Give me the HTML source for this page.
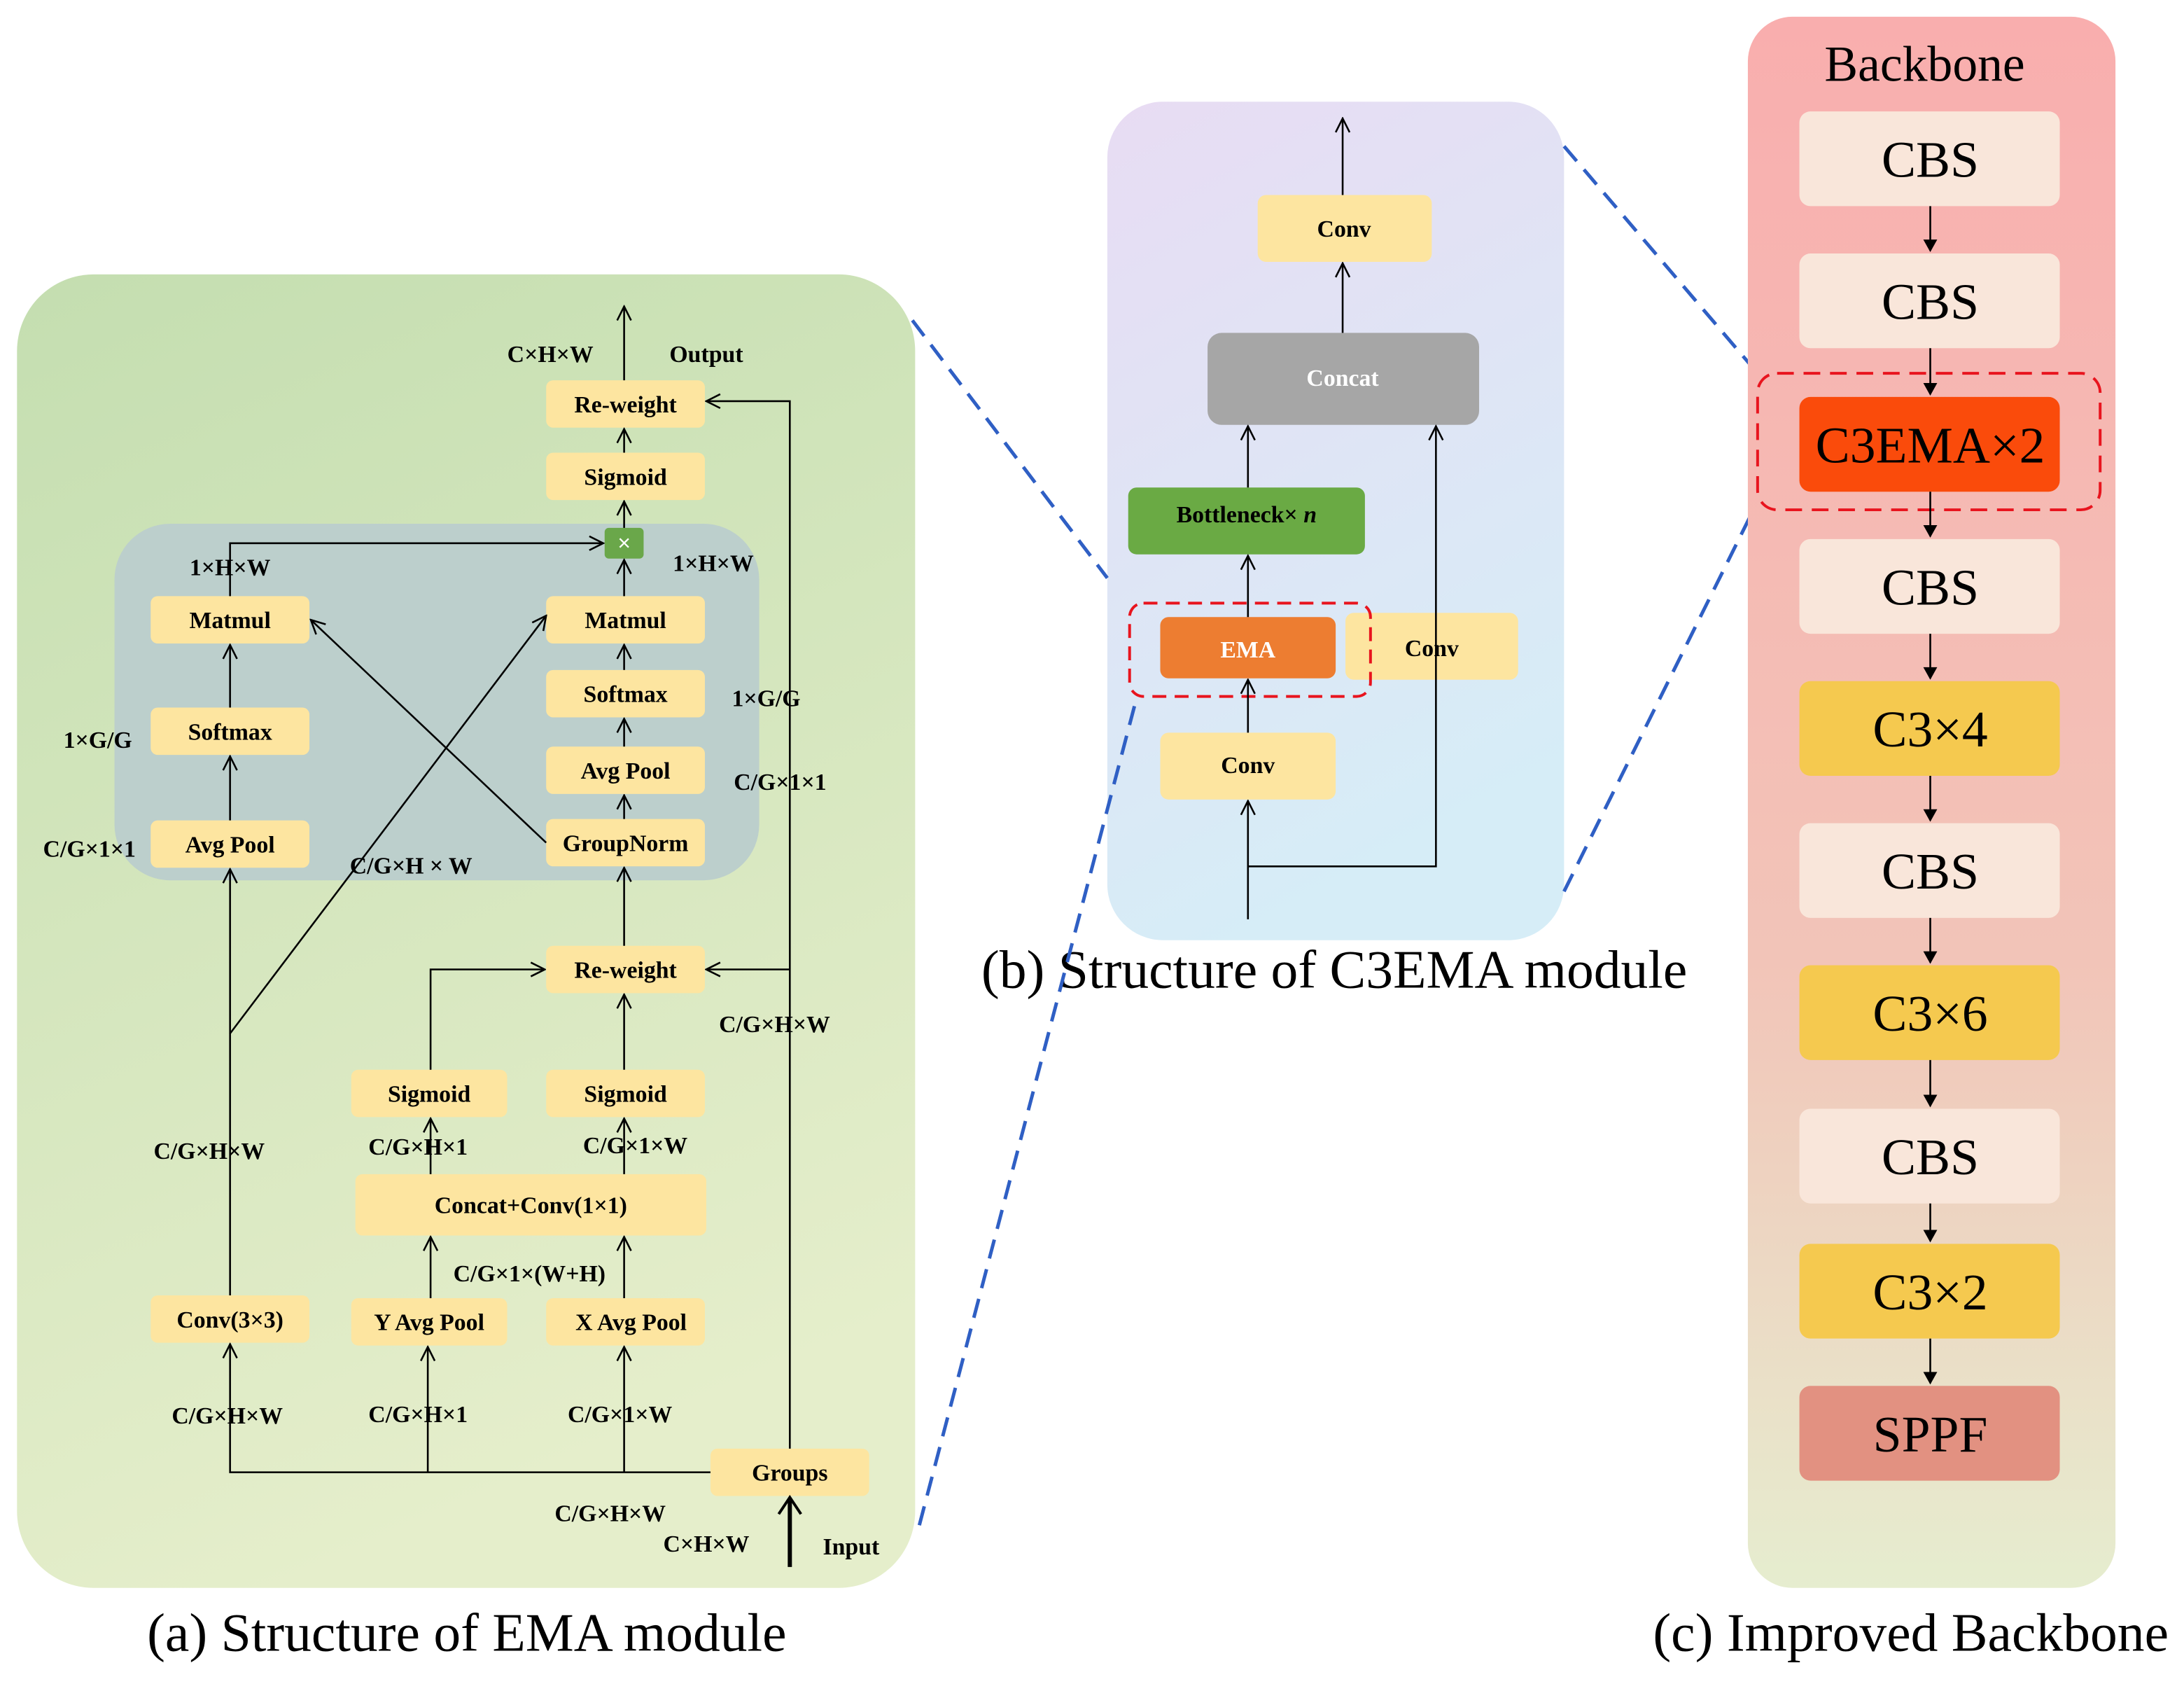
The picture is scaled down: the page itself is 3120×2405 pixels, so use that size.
<!DOCTYPE html>
<html><head><meta charset="utf-8"><style>html,body{margin:0;padding:0;background:#fff}svg{display:block}</style></head><body>
<svg width="3120" height="2405" viewBox="0 0 1568 1209" xmlns="http://www.w3.org/2000/svg" font-family="Liberation Serif, serif">
<defs>
<linearGradient id="ga" x1="0" y1="0" x2="0.3" y2="1"><stop offset="0" stop-color="#c4deb0"/><stop offset="1" stop-color="#e5eecb"/></linearGradient>
<linearGradient id="gb" x1="0" y1="0" x2="0.3" y2="1"><stop offset="0" stop-color="#e8dcf3"/><stop offset="1" stop-color="#d6edf7"/></linearGradient>
<linearGradient id="gc" x1="0" y1="0" x2="0" y2="1"><stop offset="0" stop-color="#f9aeae"/><stop offset="0.6" stop-color="#f2c4b8"/><stop offset="1" stop-color="#e6edcf"/></linearGradient>
<marker id="ar" viewBox="0 0 12 12" refX="11" refY="6" markerWidth="12" markerHeight="12" markerUnits="userSpaceOnUse" orient="auto"><path d="M1,1 L11,6 L1,11" fill="none" stroke="#000" stroke-width="1.3"/></marker>
</defs>
<!-- panel a -->
<rect x="12" y="197" width="645" height="943" rx="55" fill="url(#ga)"/>
<rect x="82" y="376" width="463" height="256" rx="40" fill="#bccfcc"/>
<g fill="#fde5a0">
<rect x="392" y="273" width="114" height="34" rx="5"/>
<rect x="392" y="325" width="114" height="34" rx="5"/>
<rect x="108" y="428" width="114" height="34" rx="5"/>
<rect x="392" y="428" width="114" height="34" rx="5"/>
<rect x="108" y="508" width="114" height="34" rx="5"/>
<rect x="392" y="481" width="114" height="34" rx="5"/>
<rect x="392" y="536" width="114" height="34" rx="5"/>
<rect x="108" y="589" width="114" height="34" rx="5"/>
<rect x="392" y="588" width="114" height="34" rx="5"/>
<rect x="392" y="679" width="114" height="34" rx="5"/>
<rect x="252" y="768" width="112" height="34" rx="5"/>
<rect x="392" y="768" width="114" height="34" rx="5"/>
<rect x="255" y="843" width="252" height="44" rx="5"/>
<rect x="108" y="930" width="114" height="34" rx="5"/>
<rect x="252" y="932" width="112" height="34" rx="5"/>
<rect x="392" y="932" width="114" height="34" rx="5"/>
<rect x="510" y="1040" width="114" height="34" rx="5"/>
</g>
<rect x="434" y="379" width="28" height="22" rx="3" fill="#6aa74a"/>
<text x="448" y="395" font-size="16" fill="#fff" text-anchor="middle" font-family="Liberation Sans, sans-serif">×</text>
<g font-size="17" font-weight="bold" text-anchor="middle" fill="#000">
<text x="449" y="296">Re-weight</text>
<text x="449" y="348">Sigmoid</text>
<text x="165" y="451">Matmul</text>
<text x="449" y="451">Matmul</text>
<text x="165" y="531">Softmax</text>
<text x="449" y="504">Softmax</text>
<text x="449" y="559">Avg Pool</text>
<text x="165" y="612">Avg Pool</text>
<text x="449" y="611">GroupNorm</text>
<text x="449" y="702">Re-weight</text>
<text x="308" y="791">Sigmoid</text>
<text x="449" y="791">Sigmoid</text>
<text x="381" y="871">Concat+Conv(1×1)</text>
<text x="165" y="953">Conv(3×3)</text>
<text x="308" y="955">Y Avg Pool</text>
<text x="453" y="955">X Avg Pool</text>
<text x="567" y="1063">Groups</text>
<text x="395" y="260">C×H×W</text>
<text x="507" y="260">Output</text>
<text x="165" y="413">1×H×W</text>
<text x="512" y="410">1×H×W</text>
<text x="70" y="537">1×G/G</text>
<text x="64" y="615">C/G×1×1</text>
<text x="295" y="627">C/G×H × W</text>
<text x="550" y="507">1×G/G</text>
<text x="560" y="567">C/G×1×1</text>
<text x="556" y="741">C/G×H×W</text>
<text x="150" y="832">C/G×H×W</text>
<text x="300" y="829">C/G×H×1</text>
<text x="456" y="828">C/G×1×W</text>
<text x="380" y="920">C/G×1×(W+H)</text>
<text x="163" y="1022">C/G×H×W</text>
<text x="300" y="1021">C/G×H×1</text>
<text x="445" y="1021">C/G×1×W</text>
<text x="438" y="1092">C/G×H×W</text>
<text x="507" y="1114">C×H×W</text>
<text x="611" y="1116">Input</text>
</g>
<g stroke="#000" stroke-width="1.3" fill="none" marker-end="url(#ar)">
<line x1="448" y1="273" x2="448" y2="220"/>
<line x1="448" y1="325" x2="448" y2="308"/>
<line x1="448" y1="379" x2="448" y2="360"/>
<line x1="448" y1="428" x2="448" y2="402"/>
<polyline points="165,428 165,390 433,390"/>
<line x1="165" y1="508" x2="165" y2="463"/>
<line x1="165" y1="589" x2="165" y2="543"/>
<line x1="448" y1="481" x2="448" y2="463"/>
<line x1="448" y1="536" x2="448" y2="516"/>
<line x1="448" y1="588" x2="448" y2="571"/>
<line x1="392" y1="605" x2="223" y2="445"/>
<polyline points="165,930 165,742 392,442"/>
<line x1="165" y1="742" x2="165" y2="624"/>
<line x1="448" y1="679" x2="448" y2="623"/>
<line x1="448" y1="768" x2="448" y2="714"/>
<polyline points="309,768 309,696 391,696"/>
<line x1="309" y1="843" x2="309" y2="803"/>
<line x1="448" y1="843" x2="448" y2="803"/>
<line x1="309" y1="932" x2="309" y2="888"/>
<line x1="448" y1="932" x2="448" y2="888"/>
<polyline points="510,1057 165,1057 165,965"/>
<line x1="307" y1="1057" x2="307" y2="967"/>
<line x1="448" y1="1057" x2="448" y2="967"/>
<polyline points="567,1040 567,288 507,288"/>
<line x1="567" y1="696" x2="507" y2="696"/>
</g>
<line x1="567" y1="1125" x2="567" y2="1077" stroke="#000" stroke-width="3"/>
<path d="M559,1087 L567,1075 L575,1087" fill="none" stroke="#000" stroke-width="2"/>
<text x="335" y="1185" font-size="39" text-anchor="middle">(a) Structure of EMA module</text>
<!-- panel b -->
<rect x="795" y="73" width="328" height="602" rx="40" fill="url(#gb)"/>
<rect x="903" y="140" width="125" height="48" rx="6" fill="#fde5a0"/>
<rect x="867" y="239" width="195" height="66" rx="10" fill="#a6a6a6"/>
<rect x="810" y="350" width="170" height="48" rx="6" fill="#6aaa44"/>
<rect x="833" y="443" width="126" height="44" rx="6" fill="#ed7d31"/>
<rect x="966" y="440" width="124" height="48" rx="6" fill="#fde5a0"/>
<rect x="833" y="526" width="126" height="48" rx="6" fill="#fde5a0"/>
<rect x="811" y="433" width="173" height="67" rx="10" fill="none" stroke="#e8141e" stroke-width="2" stroke-dasharray="10,6"/>
<g font-size="17" font-weight="bold" text-anchor="middle">
<text x="965" y="170">Conv</text>
<text x="964" y="277" fill="#fff">Concat</text>
<text x="895" y="375">Bottleneck× <tspan font-style="italic">n</tspan></text>
<text x="896" y="472" fill="#fff">EMA</text>
<text x="1028" y="471">Conv</text>
<text x="896" y="555">Conv</text>
</g>
<g stroke="#000" stroke-width="1.3" fill="none" marker-end="url(#ar)">
<line x1="896" y1="660" x2="896" y2="575"/>
<line x1="896" y1="526" x2="896" y2="488"/>
<line x1="896" y1="443" x2="896" y2="399"/>
<line x1="896" y1="350" x2="896" y2="306"/>
<line x1="964" y1="239" x2="964" y2="189"/>
<line x1="964" y1="140" x2="964" y2="85"/>
<polyline points="896,622 1031,622 1031,306"/>
</g>
<text x="958" y="709" font-size="39" text-anchor="middle">(b) Structure of C3EMA module</text>
<!-- dashed connectors -->
<g stroke="#2f5fc4" stroke-width="2.5" stroke-dasharray="14,8">
<line x1="655" y1="230" x2="795" y2="415"/>
<line x1="660" y1="1095" x2="815" y2="505"/>
<line x1="1123" y1="105" x2="1262" y2="268"/>
<line x1="1123" y1="640" x2="1262" y2="360"/>
</g>
<!-- panel c -->
<rect x="1255" y="12" width="264" height="1128" rx="32" fill="url(#gc)"/>
<text x="1382" y="58" font-size="36" text-anchor="middle">Backbone</text>
<g>
<rect x="1292" y="80" width="187" height="68" rx="8" fill="#f9e6da"/>
<rect x="1292" y="182" width="187" height="68" rx="8" fill="#f9e6da"/>
<rect x="1292" y="285" width="187" height="68" rx="8" fill="#fa4b0b"/>
<rect x="1292" y="387" width="187" height="68" rx="8" fill="#f9e6da"/>
<rect x="1292" y="489" width="187" height="68" rx="8" fill="#f5c94f"/>
<rect x="1292" y="591" width="187" height="68" rx="8" fill="#f9e6da"/>
<rect x="1292" y="693" width="187" height="68" rx="8" fill="#f5c94f"/>
<rect x="1292" y="796" width="187" height="68" rx="8" fill="#f9e6da"/>
<rect x="1292" y="893" width="187" height="68" rx="8" fill="#f5c94f"/>
<rect x="1292" y="995" width="187" height="68" rx="8" fill="#e29181"/>
</g>
<rect x="1262" y="268" width="246" height="98" rx="14" fill="none" stroke="#e8141e" stroke-width="2" stroke-dasharray="12,7"/>
<g font-size="37" text-anchor="middle">
<text x="1386" y="127">CBS</text>
<text x="1386" y="229">CBS</text>
<text x="1386" y="332">C3EMA×2</text>
<text x="1386" y="434">CBS</text>
<text x="1386" y="536">C3×4</text>
<text x="1386" y="638">CBS</text>
<text x="1386" y="740">C3×6</text>
<text x="1386" y="843">CBS</text>
<text x="1386" y="940">C3×2</text>
<text x="1386" y="1042">SPPF</text>
</g>
<g stroke="#000" stroke-width="1.3">
<line x1="1386" y1="148" x2="1386" y2="180"/>
<line x1="1386" y1="250" x2="1386" y2="283"/>
<line x1="1386" y1="353" x2="1386" y2="385"/>
<line x1="1386" y1="455" x2="1386" y2="487"/>
<line x1="1386" y1="557" x2="1386" y2="589"/>
<line x1="1386" y1="659" x2="1386" y2="691"/>
<line x1="1386" y1="761" x2="1386" y2="794"/>
<line x1="1386" y1="864" x2="1386" y2="891"/>
<line x1="1386" y1="961" x2="1386" y2="993"/>
</g>
<g fill="#000">
<path d="M1381,172 L1391,172 L1386,181Z"/><path d="M1381,275 L1391,275 L1386,284Z"/><path d="M1381,377 L1391,377 L1386,386Z"/><path d="M1381,479 L1391,479 L1386,488Z"/><path d="M1381,581 L1391,581 L1386,590Z"/><path d="M1381,683 L1391,683 L1386,692Z"/><path d="M1381,786 L1391,786 L1386,795Z"/><path d="M1381,883 L1391,883 L1386,892Z"/><path d="M1381,985 L1391,985 L1386,994Z"/>
</g>
<text x="1372" y="1185" font-size="39" text-anchor="middle">(c) Improved Backbone</text>
</svg>
</body></html>
